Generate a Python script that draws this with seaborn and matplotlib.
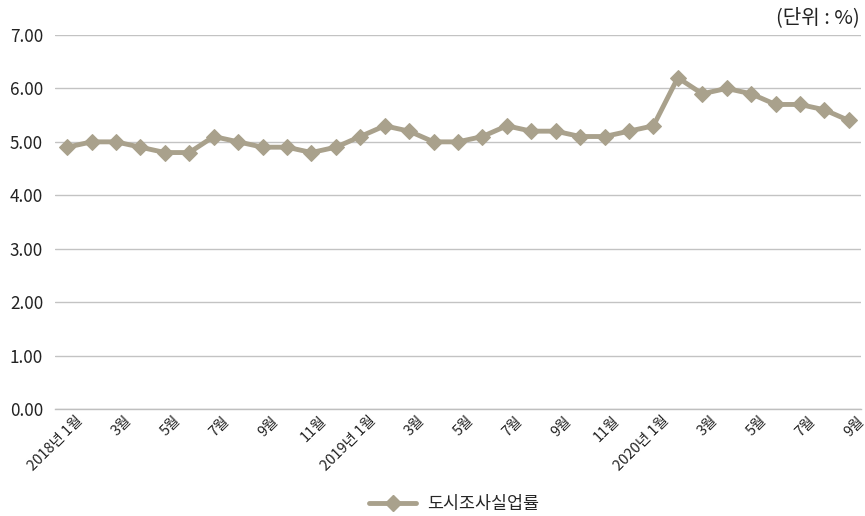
import matplotlib
matplotlib.use("Agg")
import matplotlib.pyplot as plt
import matplotlib.transforms as mtransforms
import seaborn as sns
import pandas as pd
import numpy as np

months = ["2018년 1월", "2월", "3월", "4월", "5월", "6월", "7월", "8월", "9월", "10월", "11월", "12월",
          "2019년 1월", "2월", "3월", "4월", "5월", "6월", "7월", "8월", "9월", "10월", "11월", "12월",
          "2020년 1월", "2월", "3월", "4월", "5월", "6월", "7월", "8월", "9월"]
rate = [4.9, 5.0, 5.0, 4.9, 4.8, 4.8, 5.1, 5.0, 4.9, 4.9, 4.8, 4.9,
        5.1, 5.3, 5.2, 5.0, 5.0, 5.1, 5.3, 5.2, 5.2, 5.1, 5.1, 5.2,
        5.3, 6.2, 5.9, 6.0, 5.9, 5.7, 5.7, 5.6, 5.4]
series_name = "도시조사실업률"
y_ticks = [0, 1, 2, 3, 4, 5, 6, 7]
unit_text = "(단위 : %)"

sns.set_theme(style="white")
plt.rcParams['font.family'] = ['Noto Sans CJK KR', 'DejaVu Sans']

color = "#a9a18c"
df = pd.DataFrame({"x": np.arange(len(rate)), "rate": rate, "series": series_name})

fig = plt.figure(figsize=(8.65, 5.16), dpi=100)
ax = fig.add_axes([55/865, 1-409/516, (861-55)/865, (409-35)/516])

sns.lineplot(data=df, x="x", y="rate", hue="series", palette=[color], ax=ax,
             marker="D", markersize=8, linewidth=3.5, markeredgecolor=color, legend=False)

ax.set_xlim(-0.5, len(rate)-0.5)
ax.set_ylim(0, 7)
ax.set_yticks(y_ticks)
ax.set_yticklabels([f"{v:.2f}" for v in y_ticks], fontsize=12.3, color="#222222")
ax.tick_params(axis="y", length=0, pad=8.5)
ax.grid(axis="y", color="#c3c3c3", linewidth=1)
ax.set_axisbelow(True)

label_idx = list(range(0, len(months), 2))
ax.set_xticks(label_idx)
ax.set_xticklabels([months[i] for i in label_idx], rotation=45, ha="right", va="top",
                   rotation_mode="anchor", fontsize=10.5, color="#222222")
ax.tick_params(axis="x", which="major", length=0, pad=3.5)
offset = mtransforms.ScaledTranslation(8/100, 0, fig.dpi_scale_trans)
for lbl in ax.get_xticklabels():
    lbl.set_transform(lbl.get_transform() + offset)

ax.set_xticks([-0.5, 11.5, 23.5, len(rate)-0.5], minor=True)
ax.tick_params(axis="x", which="minor", length=12, width=1, color="#bfbfbf", direction="out")

for s in ["left", "right", "top"]:
    ax.spines[s].set_visible(False)
ax.spines["bottom"].set_color("#bfbfbf")
ax.spines["bottom"].set_linewidth(1)
ax.set_xlabel("")
ax.set_ylabel("")

handle = plt.Line2D([], [], color=color, marker="D", markersize=8, linewidth=3.5)
fig.legend([handle], [series_name], loc="center", bbox_to_anchor=(454/865, 1-504/516),
           frameon=False, fontsize=12.5, handlelength=2.7, handletextpad=0.6,
           borderpad=0, borderaxespad=0)

fig.text(860/865, 1-18/516, unit_text, ha="right", va="center", fontsize=14.5, color="#222222")

fig.savefig("out.png", dpi=100)
